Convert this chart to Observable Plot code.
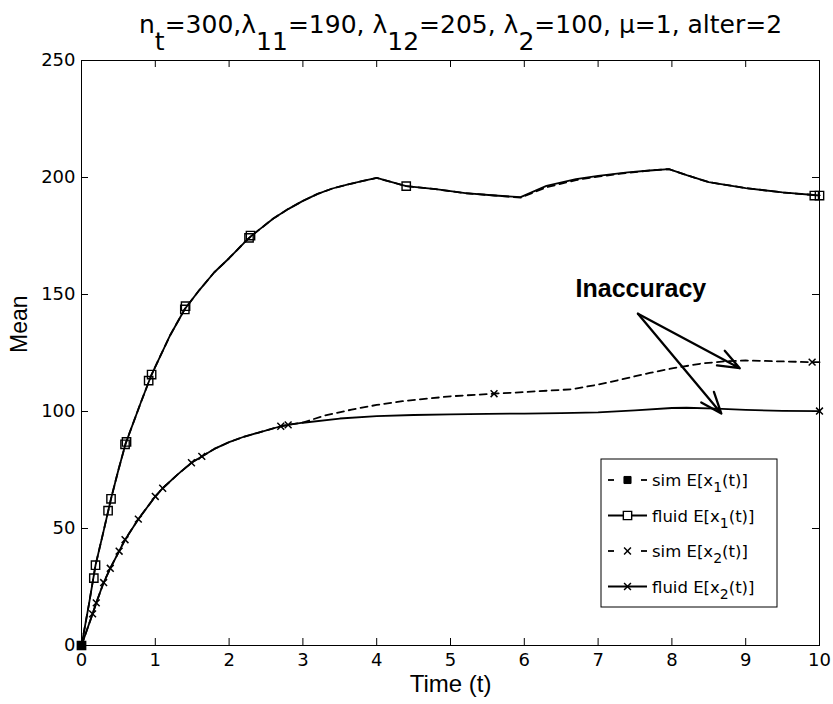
<!DOCTYPE html>
<html>
<head>
<meta charset="utf-8">
<script src="https://cdn.jsdelivr.net/npm/d3@7"></script>
<script src="https://cdn.jsdelivr.net/npm/@observablehq/plot@0.6"></script>
<style>
  html, body { margin: 0; padding: 0; background: #fff; }
</style>
</head>
<body>
<div id="chart"></div>
<script>
// ---------- data ----------
const xTicks = [0, 1, 2, 3, 4, 5, 6, 7, 8, 9, 10];
const yTicks = [0, 50, 100, 150, 200, 250];

const fluidX1T = [0, 0.1, 0.19, 0.3, 0.4, 0.5, 0.6, 0.8, 0.95, 1.2, 1.4, 1.6, 1.8, 2.0, 2.2, 2.3, 2.4, 2.6, 2.8, 3.0, 3.2, 3.4, 3.6, 3.8, 4.0, 4.4, 4.8, 5.2, 5.6, 5.95, 6.3, 6.7, 7.0, 7.4, 7.7, 7.96, 8.2, 8.5, 9.0, 9.5, 10];
const fluidX1V = [0, 17.5, 34.3, 49, 62.7, 75, 86.5, 103.5, 115.8, 132.5, 143.8, 152, 159.5, 165.5, 172, 175, 177.5, 182.5, 186.5, 190, 193, 195.3, 197, 198.4, 199.8, 196.3, 195, 193.3, 192.3, 191.6, 196.4, 199.3, 200.7, 202.2, 203, 203.6, 201, 198, 195.5, 193.6, 192.3];

const simX1T = [0, 0.1, 0.19, 0.3, 0.4, 0.5, 0.6, 0.8, 0.95, 1.2, 1.4, 1.6, 1.8, 2.0, 2.2, 2.3, 2.4, 2.6, 2.8, 3.0, 3.2, 3.4, 3.6, 3.8, 4.0, 4.4, 4.8, 5.2, 5.6, 5.95, 6.3, 6.7, 7.0, 7.4, 7.7, 7.96, 8.2, 8.5, 9.0, 9.5, 10];
const simX1V = [0, 17.5, 34.3, 49, 62.7, 75, 86.5, 103.5, 115.8, 132.5, 143.8, 152, 159.5, 165.5, 172, 175, 177.5, 182.5, 186.5, 190, 193, 195.3, 197, 198.4, 199.8, 196.3, 195, 193.3, 192.3, 191.4, 195.8, 198.9, 200.4, 202, 203, 203.6, 201, 198, 195.5, 193.6, 192.3];

const fluidX2T = [0, 0.15, 0.2, 0.3, 0.39, 0.51, 0.59, 0.77, 1.0, 1.1, 1.3, 1.49, 1.63, 1.8, 2.0, 2.2, 2.4, 2.7, 2.8, 3.0, 3.5, 4.0, 4.5, 5.0, 5.5, 6.0, 6.5, 7.0, 7.5, 8.0, 8.2, 8.6, 9.0, 9.5, 10];
const fluidX2V = [0, 13.5, 18.2, 26.9, 33, 40.3, 45.2, 54, 63.7, 67.2, 73, 78.1, 80.8, 84, 86.9, 89.2, 91, 93.7, 94.3, 95.2, 97, 98, 98.5, 98.8, 99, 99.1, 99.3, 99.6, 100.5, 101.5, 101.6, 101.2, 100.7, 100.3, 100.2];

const simX2T = [0, 0.15, 0.2, 0.3, 0.39, 0.51, 0.59, 0.77, 1.0, 1.1, 1.3, 1.49, 1.63, 1.8, 2.0, 2.2, 2.4, 2.7, 2.8, 3.0, 3.3, 3.66, 4.0, 4.35, 5.0, 5.59, 6.0, 6.64, 7.0, 7.33, 7.7, 8.02, 8.4, 8.71, 9.0, 9.5, 9.9, 10];
const simX2V = [0, 13.5, 18.2, 26.9, 33, 40.3, 45.2, 54, 63.7, 67.2, 73, 78.1, 80.8, 84, 86.9, 89.2, 91, 93.7, 94.3, 95.3, 98.3, 100.8, 102.8, 104.4, 106.5, 107.6, 108.3, 109.5, 111.5, 113.8, 116.5, 118.5, 120.5, 121.4, 121.8, 121.4, 121.1, 121.1];

// sparse markers
const fluidX1MarkT = [0, 0.167, 0.19, 0.36, 0.40, 0.59, 0.61, 0.91, 0.95, 1.40, 1.41, 2.27, 2.29, 4.40, 9.93, 10];
const fluidX1MarkV = [0, 28.8, 34.3, 57.6, 62.7, 86, 87, 113.2, 115.8, 143.6, 145, 174.2, 175.2, 196.3, 192.3, 192.3];
const simX1MarkT = [0];
const simX1MarkV = [0];
const fluidX2MarkT = [0.15, 0.2, 0.3, 0.39, 0.51, 0.59, 0.77, 1.0, 1.1, 1.49, 1.63, 2.7, 2.8, 10];
const fluidX2MarkV = [13.5, 18.2, 26.9, 33, 40.3, 45.2, 54, 63.7, 67.2, 78.1, 80.8, 93.7, 94.3, 100.2];
const simX2MarkT = [5.59, 9.9];
const simX2MarkV = [107.6, 121.1];

// annotation
const annotLabel = ["Inaccuracy"];
const annotT = [7.58];
const annotV = [152.5];
const arrowFromT = [7.54, 7.54];
const arrowFromV = [141.8, 141.8];
const arrowToT = [8.92, 8.67];
const arrowToV = [118.5, 99.1];

// texts
const xLabel = "Time (t)";
const yLabel = "Mean";
const titleParts = [["n", false], ["t", true], ["=300,λ", false], ["11", true], ["=190, λ", false], ["12", true], ["=205, λ", false], ["2", true], ["=100, μ=1, alter=2", false]];
const legendNames = ["sim", "fluid", "sim", "fluid"];
const legendSubs = ["1", "1", "2", "2"];
const legendDashed = [true, false, true, false];
const legendSymbols = ["filledSquare", "square", "times", "times"];

// ---------- build tables ----------
const zip = (T, V) => T.map((t, i) => ({t, v: V[i]}));
const fluidX1 = zip(fluidX1T, fluidX1V);
const simX1 = zip(simX1T, simX1V);
const fluidX2 = zip(fluidX2T, fluidX2V);
const simX2 = zip(simX2T, simX2V);
const fluidX1Marks = zip(fluidX1MarkT, fluidX1MarkV);
const simX1Marks = zip(simX1MarkT, simX1MarkV);
const fluidX2Marks = zip(fluidX2MarkT, fluidX2MarkV);
const simX2Marks = zip(simX2MarkT, simX2MarkV);
const annot = annotLabel.map((label, i) => ({label, t: annotT[i], v: annotV[i]}));
const arrows = arrowFromT.map((t1, i) => ({t1, v1: arrowFromV[i], t2: arrowToT[i], v2: arrowToV[i]}));

// ---------- layout ----------
const W = 833, H = 704;
const mL = 81, mR = 14, mT = 60, mB = 59;
const innerW = W - mL - mR, innerH = H - mT - mB;
const TICK = 7;
const DASH = "7,5";
const LW = 1.8;
const SANS = "'Liberation Sans', Arial, Helvetica, sans-serif";
const WIDE = "'DejaVu Sans', sans-serif";

const chart = Plot.plot({
  width: W, height: H,
  marginLeft: mL, marginRight: mR, marginTop: mT, marginBottom: mB,
  style: {background: "white", color: "black", fontFamily: WIDE, fontSize: "18px", overflow: "visible"},
  x: {domain: [0, 10]},
  y: {domain: [0, 250]},
  marks: [
    Plot.frame({stroke: "black", strokeWidth: 1}),
    Plot.tickX(xTicks, {x: d => d, insetTop: innerH - TICK, stroke: "black"}),
    Plot.tickX(xTicks, {x: d => d, insetBottom: innerH - TICK, stroke: "black"}),
    Plot.tickY(yTicks, {y: d => d, insetRight: innerW - TICK, stroke: "black"}),
    Plot.tickY(yTicks, {y: d => d, insetLeft: innerW - TICK, stroke: "black"}),
    Plot.axisX({ticks: xTicks, tickSize: 0, tickPadding: 8, label: null, tickFormat: d => String(d)}),
    Plot.axisY({ticks: yTicks, tickSize: 0, tickPadding: 6, label: null, tickFormat: d => String(d)}),
    Plot.line(simX1, {x: "t", y: "v", stroke: "black", strokeWidth: LW, strokeDasharray: DASH}),
    Plot.line(fluidX1, {x: "t", y: "v", stroke: "black", strokeWidth: LW}),
    Plot.line(simX2, {x: "t", y: "v", stroke: "black", strokeWidth: LW, strokeDasharray: DASH}),
    Plot.line(fluidX2, {x: "t", y: "v", stroke: "black", strokeWidth: LW}),
    Plot.dot(fluidX1Marks, {x: "t", y: "v", symbol: "square", r: 4.7, stroke: "black", fill: "none", strokeWidth: 1.4}),
    Plot.dot(simX1Marks, {x: "t", y: "v", symbol: "square", r: 4, stroke: "black", fill: "black"}),
    Plot.dot(fluidX2Marks, {x: "t", y: "v", symbol: "times", r: 3.2, stroke: "black", strokeWidth: 1.5}),
    Plot.dot(simX2Marks, {x: "t", y: "v", symbol: "times", r: 3.2, stroke: "black", strokeWidth: 1.5}),
    Plot.arrow(arrows, {x1: "t1", y1: "v1", x2: "t2", y2: "v2", stroke: "black", strokeWidth: 2.3, headLength: 15, headAngle: 42}),
    Plot.text(annot, {x: "t", y: "v", text: "label", fontWeight: "bold", fontSize: 25, fontFamily: SANS, fill: "black"}),
    Plot.text([xLabel], {text: d => d, frameAnchor: "bottom", dy: 46, fontSize: 24, fontFamily: SANS, fill: "black"}),
    Plot.text([yLabel], {text: d => d, frameAnchor: "left", dx: -62, rotate: -90, fontSize: 23, fontFamily: SANS, fill: "black"})
  ]
});

document.getElementById("chart").append(chart);

// ---------- title with subscripts ----------
const svg = d3.select(chart);
const SUB_T = 17;
const title = svg.append("text")
  .attr("x", 139).attr("y", 33)
  .attr("text-anchor", "start")
  .attr("font-family", WIDE).attr("font-size", 25)
  .attr("fill", "black").style("white-space", "pre");
let cur = 0;
titleParts.forEach(([s, sub]) => {
  const shift = sub ? SUB_T : 0;
  title.append("tspan").attr("dy", shift - cur).text(s);
  cur = shift;
});

// ---------- legend ----------
const lgX = 601, lgY = 459, lgW = 176, lgH = 148;
const rowY0 = 480, rowStep = 35.5;
const lg = svg.append("g").attr("text-anchor", "start");
lg.append("rect").attr("x", lgX).attr("y", lgY).attr("width", lgW).attr("height", lgH)
  .attr("fill", "white").attr("stroke", "black").attr("stroke-width", 1);
legendNames.forEach((name, i) => {
  const cy = rowY0 + i * rowStep;
  const x0 = lgX + 7, x1 = lgX + 46, xm = (x0 + x1) / 2;
  if (legendDashed[i]) {
    lg.append("line").attr("x1", x0).attr("x2", x0 + 6).attr("y1", cy).attr("y2", cy).attr("stroke", "black").attr("stroke-width", LW);
    lg.append("line").attr("x1", x1 - 6).attr("x2", x1).attr("y1", cy).attr("y2", cy).attr("stroke", "black").attr("stroke-width", LW);
  } else {
    lg.append("line").attr("x1", x0).attr("x2", x1).attr("y1", cy).attr("y2", cy).attr("stroke", "black").attr("stroke-width", LW);
  }
  const sym = legendSymbols[i];
  if (sym === "filledSquare") {
    lg.append("path").attr("d", d3.symbol(d3.symbolSquare, Math.PI * 4 * 4)()).attr("transform", `translate(${xm},${cy})`).attr("fill", "black").attr("stroke", "black");
  } else if (sym === "square") {
    lg.append("path").attr("d", d3.symbol(d3.symbolSquare, Math.PI * 4.7 * 4.7)()).attr("transform", `translate(${xm},${cy})`).attr("fill", "white").attr("stroke", "black").attr("stroke-width", 1.4);
  } else {
    lg.append("path").attr("d", d3.symbol(d3.symbolTimes, Math.PI * 3.2 * 3.2)()).attr("transform", `translate(${xm},${cy})`).attr("fill", "none").attr("stroke", "black").attr("stroke-width", 1.5);
  }
  const t = lg.append("text").attr("x", lgX + 51).attr("y", cy + 6).attr("text-anchor", "start")
    .attr("font-family", WIDE).attr("font-size", 16.5).attr("fill", "black").style("white-space", "pre");
  t.append("tspan").text(name + " E[x");
  t.append("tspan").attr("dy", 6).attr("font-size", 14).text(legendSubs[i]);
  t.append("tspan").attr("dy", -6).text("(t)]");
});
</script>
</body>
</html>
